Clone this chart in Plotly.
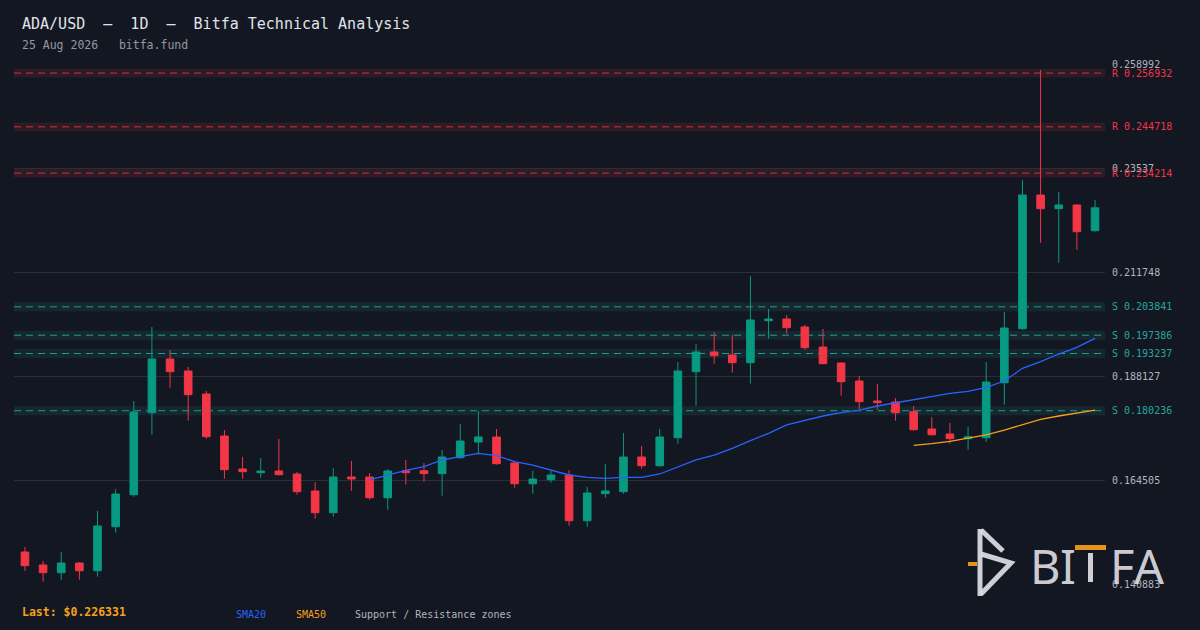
import pandas as pd
import plotly.graph_objects as go

# --- data ---
dates = pd.date_range(end="2026-08-25", periods=60, freq="D")

opens = [0.14815, 0.14520, 0.14345, 0.14565, 0.14390, 0.15390, 0.16117, 0.17979, 0.19199, 0.18926,
         0.18404, 0.17450, 0.16700, 0.16616, 0.16655, 0.16587, 0.16201, 0.15708, 0.16519, 0.16519,
         0.16048, 0.16662, 0.16662, 0.16594, 0.16957, 0.17314, 0.17427, 0.16837, 0.16366, 0.16457,
         0.16564, 0.15526, 0.16139, 0.16185, 0.16973, 0.16775, 0.17411, 0.18910, 0.19358, 0.19290,
         0.19115, 0.20069, 0.20107, 0.19926, 0.19471, 0.19108, 0.18699, 0.18245, 0.18222, 0.18002,
         0.17609, 0.17495, 0.17389, 0.17411, 0.18660, 0.19887, 0.22924, 0.22613, 0.22697, 0.22113]
highs = [0.14929, 0.14611, 0.14815, 0.14588, 0.15746, 0.16246, 0.18245, 0.19926, 0.19403, 0.19017,
         0.18472, 0.17586, 0.16973, 0.16950, 0.17382, 0.16632, 0.16405, 0.16723, 0.16882, 0.16609,
         0.16700, 0.16905, 0.16837, 0.17132, 0.17722, 0.18018, 0.17609, 0.16859, 0.16655, 0.16655,
         0.16678, 0.16292, 0.16814, 0.17518, 0.17223, 0.17609, 0.19131, 0.19539, 0.19812, 0.19744,
         0.21084, 0.20334, 0.20198, 0.19971, 0.19880, 0.19120, 0.18813, 0.18631, 0.18313, 0.18131,
         0.17881, 0.17745, 0.17654, 0.19131, 0.20266, 0.23264, 0.25763, 0.22992, 0.22710, 0.22810]
lows = [0.14390, 0.14141, 0.14186, 0.14186, 0.14254, 0.15254, 0.16071, 0.17479, 0.18547, 0.17797,
        0.17389, 0.16480, 0.16480, 0.16503, 0.16560, 0.16117, 0.15572, 0.15617, 0.16207, 0.16003,
        0.15776, 0.16344, 0.16412, 0.16094, 0.16934, 0.17034, 0.16798, 0.16276, 0.16139, 0.16389,
        0.15413, 0.15390, 0.16048, 0.16139, 0.16707, 0.16746, 0.17275, 0.18138, 0.19092, 0.18888,
        0.18638, 0.19660, 0.19773, 0.19410, 0.19080, 0.18365, 0.18063, 0.18047, 0.17797, 0.17570,
        0.17457, 0.17275, 0.17139, 0.17320, 0.18161, 0.19864, 0.21840, 0.21386, 0.21681, 0.22090]
closes = [0.14504, 0.14345, 0.14565, 0.14390, 0.15406, 0.16132, 0.17995, 0.19199, 0.18910, 0.18388,
          0.17434, 0.16684, 0.16639, 0.16655, 0.16571, 0.16185, 0.15708, 0.16519, 0.16473, 0.16048,
          0.16655, 0.16616, 0.16594, 0.16973, 0.17336, 0.17427, 0.16821, 0.16366, 0.16473, 0.16564,
          0.15526, 0.16155, 0.16201, 0.16973, 0.16775, 0.17427, 0.18926, 0.19358, 0.19274, 0.19115,
          0.20085, 0.20107, 0.19910, 0.19455, 0.19092, 0.18683, 0.18229, 0.18206, 0.17979, 0.17593,
          0.17479, 0.17389, 0.17434, 0.18676, 0.19903, 0.22924, 0.22613, 0.22697, 0.22090, 0.226331]

# moving averages as drawn (start at bar 20 and bar 50)
sma20 = [0.16451, 0.16557, 0.16671, 0.16753, 0.16905, 0.16980, 0.17057, 0.17002, 0.16866, 0.16791,
         0.16678, 0.16564, 0.16512, 0.16489, 0.16512, 0.16512, 0.16587, 0.16753, 0.16905, 0.17018,
         0.17171, 0.17343, 0.17511, 0.17700, 0.17806, 0.17904, 0.17979, 0.18040, 0.18131, 0.18206,
         0.18268, 0.18358, 0.18420, 0.18465, 0.18556, 0.18699, 0.18988, 0.19137, 0.19312, 0.19465,
         0.19669]
sma50 = [0.17239, 0.17275, 0.17330, 0.17404, 0.17473, 0.17586, 0.17711, 0.17829, 0.17904, 0.17965,
         0.18040]

res_levels = [0.256932, 0.244718, 0.234214]
sup_levels = [0.203841, 0.197386, 0.193237, 0.180236]

y_ticks = [0.258992, 0.23537, 0.211748, 0.188127, 0.164505, 0.140883]
y_ticktext = ["0.258992", "0.23537", "0.211748", "0.188127", "0.164505", "0.140883"]

last_price = closes[-1]

# --- styling ---
BG = "#131722"
GREEN = "#089981"
RED = "#f23645"
MONO = "DejaVu Sans Mono"
ZONE_HALF = 0.001

W, H = 1200, 630
ML, MR, MT, MB = 14, 95, 64, 46
PW, PH = W - ML - MR, H - MT - MB


def px(x):
    return (x - ML) / PW


def py(y):
    return (H - MB - y) / PH


fig = go.Figure()

fig.add_trace(go.Candlestick(
    x=dates, open=opens, high=highs, low=lows, close=closes,
    increasing=dict(line=dict(color=GREEN, width=1), fillcolor=GREEN),
    decreasing=dict(line=dict(color=RED, width=1), fillcolor=RED),
    whiskerwidth=0, hoverinfo="skip",
))
fig.add_trace(go.Scatter(x=dates[19:], y=sma20, mode="lines",
                         line=dict(color="#2962ff", width=1.3), hoverinfo="skip"))
fig.add_trace(go.Scatter(x=dates[49:], y=sma50, mode="lines",
                         line=dict(color="#f59f1b", width=1.3), hoverinfo="skip"))

shapes = []
annotations = []
for lvl, kind in [(v, "R") for v in res_levels] + [(v, "S") for v in sup_levels]:
    fill = "rgba(242,54,69,0.12)" if kind == "R" else "rgba(38,166,154,0.12)"
    line_c = "rgba(242,54,69,0.85)" if kind == "R" else "rgba(38,166,154,0.9)"
    txt_c = RED if kind == "R" else "#26a69a"
    shapes.append(dict(type="rect", xref="paper", yref="y", x0=0, x1=1,
                       y0=lvl - ZONE_HALF, y1=lvl + ZONE_HALF,
                       fillcolor=fill, line=dict(width=0), layer="below"))
    shapes.append(dict(type="line", xref="paper", yref="y", x0=0, x1=1, y0=lvl, y1=lvl,
                       line=dict(color=line_c, width=1, dash="7px,5px"), layer="below"))
    annotations.append(dict(xref="paper", yref="y", x=1, y=lvl, xanchor="left", yanchor="middle",
                            xshift=5, showarrow=False, text=f"{kind} {lvl:.6f}",
                            font=dict(family=MONO, size=10, color=txt_c)))

# header / footer text
annotations += [
    dict(xref="paper", yref="paper", x=px(20), y=py(24), xanchor="left", yanchor="middle",
         showarrow=False, text="ADA/USD  –  1D  –  Bitfa Technical Analysis",
         font=dict(family=MONO, size=15, color="#e0e3eb")),
    dict(xref="paper", yref="paper", x=px(20), y=py(45), xanchor="left", yanchor="middle",
         showarrow=False, text="25 Aug 2026   bitfa.fund",
         font=dict(family=MONO, size=11.5, color="#9598a1")),
    dict(xref="paper", yref="paper", x=px(20), y=py(612), xanchor="left", yanchor="middle",
         showarrow=False, text=f"<b>Last: ${last_price:.6f}</b>",
         font=dict(family=MONO, size=11.5, color="#f7a21b")),
    dict(xref="paper", yref="paper", x=px(234), y=py(614), xanchor="left", yanchor="middle",
         showarrow=False, text="SMA20", font=dict(family=MONO, size=10, color="#2962ff")),
    dict(xref="paper", yref="paper", x=px(294), y=py(614), xanchor="left", yanchor="middle",
         showarrow=False, text="SMA50", font=dict(family=MONO, size=10, color="#f59f1b")),
    dict(xref="paper", yref="paper", x=px(353), y=py(614), xanchor="left", yanchor="middle",
         showarrow=False, text="Support / Resistance zones",
         font=dict(family=MONO, size=10, color="#b2b5be")),
]

# BITFA logo, bottom right
LOGO = "rgba(222,222,228,0.92)"
LOGO_OR = "rgba(240,154,30,0.95)"
for ch, cx in [("B", 1045), ("I", 1068), ("F", 1122), ("A", 1149)]:
    annotations.append(dict(xref="paper", yref="paper", x=px(cx), y=py(566), xanchor="center",
                            yanchor="middle", showarrow=False, text=ch,
                            font=dict(family="Noto Sans", size=47, color=LOGO)))
shapes += [
    dict(type="path", xref="paper", yref="paper",
         path=f"M{px(980)},{py(529)} L{px(980)},{py(596)}", line=dict(color=LOGO, width=5)),
    dict(type="path", xref="paper", yref="paper",
         path=f"M{px(981)},{py(530)} L{px(1003)},{py(551)}", line=dict(color=LOGO, width=5)),
    dict(type="path", xref="paper", yref="paper",
         path=f"M{px(981)},{py(554)} L{px(1011)},{py(563)} L{px(981)},{py(594)}",
         line=dict(color=LOGO, width=5)),
    dict(type="rect", xref="paper", yref="paper", x0=px(968), x1=px(977), y0=py(562), y1=py(566),
         fillcolor=LOGO_OR, line=dict(width=0)),
    dict(type="rect", xref="paper", yref="paper", x0=px(1075), x1=px(1106), y0=py(545), y1=py(550),
         fillcolor=LOGO_OR, line=dict(width=0)),
    dict(type="rect", xref="paper", yref="paper", x0=px(1088), x1=px(1093), y0=py(553), y1=py(582),
         fillcolor=LOGO, line=dict(width=0)),
]

x0 = dates[0] - pd.Timedelta(hours=14.5)
x1 = dates[-1] + pd.Timedelta(hours=13.2)

fig.update_layout(
    width=W, height=H,
    margin=dict(l=ML, r=MR, t=MT, b=MB),
    paper_bgcolor=BG, plot_bgcolor=BG,
    showlegend=False,
    boxgap=0.4,
    shapes=shapes, annotations=annotations,
    xaxis=dict(visible=False, range=[x0, x1], rangeslider=dict(visible=False)),
    yaxis=dict(side="right", range=[y_ticks[-1], y_ticks[0]], tickvals=y_ticks, ticktext=y_ticktext,
               gridcolor="#2a2e39", gridwidth=1, zeroline=False, showline=False, ticks="",
               ticklabelstandoff=6,
               tickfont=dict(family=MONO, size=10, color="#b2b5be")),
)

# page without the default body margin, so the figure fills the window
fig.write_html("out.html", config={"displayModeBar": False}, post_script=(
    "document.body.style.margin='0';document.body.style.background='" + BG + "';"))
